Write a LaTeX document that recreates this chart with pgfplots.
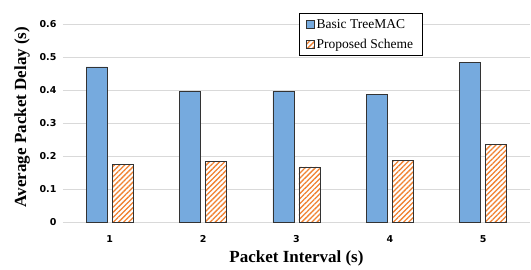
\documentclass[border=0pt]{standalone}
\usepackage{pgfplots}
\pgfplotsset{compat=1.18}
\usepackage{fontspec}
\setmainfont{Liberation Serif}
\newfontfamily\tickfont{DejaVu Sans}
\usetikzlibrary{patterns.meta}
\definecolor{barblue}{RGB}{118,170,222}
\definecolor{barorange}{RGB}{240,130,50}
\definecolor{gridgray}{RGB}{217,217,217}
\begin{document}
\begin{tikzpicture}[x=1pt,y=1pt]
\path (0,0) rectangle (531,266);
\begin{axis}[
  at={(63pt,44pt)}, anchor=south west,
  scale only axis=true,
  width=467pt, height=198pt,
  ybar=5pt, bar width=21pt,
  xmin=0.5, xmax=5.5, ymin=0, ymax=0.6,
  xtick={1,2,3,4,5},
  xticklabels={1,2,3,4,5},
  ytick={0,0.1,0.2,0.3,0.4,0.5,0.6},
  yticklabels={0,0.1,0.2,0.3,0.4,0.5,0.6},
  axis line style={draw=none},
  axis x line*=bottom,
  major tick length=0pt,
  ymajorgrids=true,
  grid style={gridgray, line width=0.8pt},
  ticklabel style={font=\tickfont\bfseries\fontsize{9.5}{10}\selectfont},
  xticklabel style={yshift=-10pt},
  yticklabel style={xshift=-3pt},
  xlabel={\textbf{Packet Interval (s)}},
  ylabel={\textbf{Average Packet Delay (s)}},
  label style={font=\fontsize{17}{18}\selectfont},
  xlabel style={yshift=-1pt},
  ylabel style={yshift=3pt, xshift=6pt},
  legend style={at={(0.505,1.055)}, anchor=north west, draw=black, line width=0.6pt,
    font=\fontsize{13.5}{14}\selectfont, row sep=5pt, inner xsep=7pt, inner ysep=4pt},
  legend cell align=left,
  legend image code/.code={\draw[#1, line width=0.5pt] (0pt,-4pt) rectangle (8pt,4pt);},
  clip=false,
]
\addplot[draw=black!80, line width=0.6pt, fill=barblue] coordinates {(1,0.470) (2,0.396) (3,0.396) (4,0.387) (5,0.484)};
\addplot[draw=black!80, line width=0.6pt, fill=white, postaction={pattern={Lines[angle=45,distance=3.6pt,line width=1.3pt]}, pattern color=barorange}] coordinates {(1,0.175) (2,0.183) (3,0.167) (4,0.186) (5,0.235)};
\legend{Basic TreeMAC, Proposed Scheme}
\end{axis}
\end{tikzpicture}
\end{document}
